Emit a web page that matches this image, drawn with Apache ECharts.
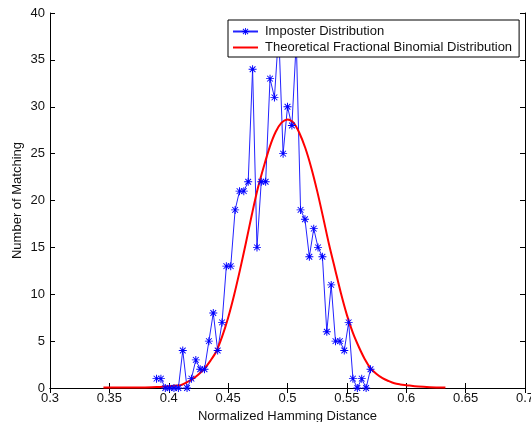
<!DOCTYPE html>
<html>
<head>
<meta charset="utf-8">
<script src="https://cdn.jsdelivr.net/npm/echarts@6/dist/echarts.min.js"></script>
<style>
html,body{margin:0;padding:0;background:#fff;}
#c{width:531px;height:422px;}
</style>
</head>
<body>
<div id="c"></div>
<script>
// Imposter distribution (x = normalized Hamming distance, y = count)
const imposterX = [0.3897,0.3934,0.3971,0.4007,0.4044,0.4081,0.4118,0.4154,0.4191,0.4228,
  0.4265,0.4301,0.4338,0.4375,0.4412,0.4449,0.4485,0.4522,0.4559,0.4596,
  0.4632,0.4669,0.4706,0.4743,0.4779,0.4816,0.4853,0.4890,0.4926,0.4963,
  0.5000,0.5037,0.5074,0.5110,0.5147,0.5184,0.5221,0.5257,0.5294,0.5331,
  0.5368,0.5404,0.5441,0.5478,0.5515,0.5551,0.5588,0.5625,0.5662,0.5699];
const imposterY = [1,1,0,0,0,0,4,0,1,3,
  2,2,5,8,4,7,13,13,19,21,
  21,22,34,15,22,22,33,31,38,25,
  30,28,37,19,18,14,17,15,14,6,
  11,5,5,4,7,1,0,1,0,2];

// Theoretical fractional binomial distribution
const theoryX = [0.345,0.35,0.36,0.37,0.38,0.39,0.40,0.405,0.41,0.415,
  0.42,0.425,0.43,0.435,0.44,0.445,0.45,0.455,0.46,0.465,
  0.47,0.475,0.48,0.485,0.49,0.495,0.50,0.505,0.51,0.515,
  0.52,0.525,0.53,0.535,0.54,0.545,0.55,0.555,0.56,0.565,
  0.57,0.575,0.58,0.585,0.59,0.595,0.60,0.61,0.62,0.633];
const theoryY = [0.05,0.05,0.05,0.05,0.06,0.1,0.2,0.25,0.3,0.6,
  0.95,1.45,2.05,2.9,3.9,5.5,7.5,9.9,12.6,15.5,
  18.5,21.3,23.6,25.7,27.3,28.3,28.65,28.3,27.2,25.6,
  23.5,21.0,18.2,15.3,12.7,10.1,7.8,5.9,4.4,3.1,
  2.1,1.5,1.05,0.75,0.5,0.38,0.3,0.15,0.08,0.05];

const xTickLabels = ['0.3','0.35','0.4','0.45','0.5','0.55','0.6','0.65','0.7'];
const yTickLabels = ['0','5','10','15','20','25','30','35','40'];

const seriesNames = ['Imposter Distribution','Theoretical Fractional Binomial Distribution'];

const star = 'path://M4.4,0H5.6V10H4.4Z M0,4.4H10V5.6H0Z M1,1.85L1.85,1L9,8.15L8.15,9Z M8.15,1L9,1.85L1.85,9L1,8.15Z';

const FONT = '"Liberation Sans", Arial, Helvetica, sans-serif';
const TXT = '#111';
const FS = 13;

function zip(a,b){ return a.map((v,i)=>[v,b[i]]); }

const chart = echarts.init(document.getElementById('c'), null, {renderer:'canvas'});
const baseAxisLine = {show:true, lineStyle:{color:'#000', width:1}};
chart.setOption({
  animation:false,
  backgroundColor:'#fff',
  textStyle:{fontFamily:FONT},
  grid:{left:50, right:6, top:13, bottom:34, containLabel:false, outerBoundsMode:'none'},
  legend:{
    orient:'vertical',
    left:228, top:20,
    itemWidth:25, itemHeight:9, itemGap:3,
    padding:[5,7,3,4],
    backgroundColor:'#fff',
    borderColor:'#000', borderWidth:1, borderRadius:0,
    textStyle:{fontFamily:FONT, fontSize:FS, color:TXT, padding:[0,0,0,2]},
    data:[{name:seriesNames[0]},{name:seriesNames[1], itemStyle:{opacity:0}}]
  },
  xAxis:[{
    type:'value', min:0.3, max:0.7, interval:0.05, position:'bottom',
    axisLine:baseAxisLine,
    axisTick:{show:true, inside:true, length:5, lineStyle:{color:'#000'}},
    axisLabel:{margin:4, fontSize:FS, color:TXT, fontFamily:FONT,
      formatter:(v)=>xTickLabels[Math.round((v-0.3)/0.05)]},
    splitLine:{show:false},
    name:'Normalized Hamming Distance', nameLocation:'middle', nameGap:22,
    nameTextStyle:{fontSize:FS, color:TXT, fontFamily:FONT}
  },{
    type:'value', min:0.3, max:0.7, interval:0.05, position:'top',
    axisLine:baseAxisLine,
    axisTick:{show:true, inside:true, length:5, lineStyle:{color:'#000'}},
    axisLabel:{show:false}, splitLine:{show:false}
  }],
  yAxis:[{
    type:'value', min:0, max:40, interval:5, position:'left',
    axisLine:baseAxisLine,
    axisTick:{show:true, inside:true, length:5, lineStyle:{color:'#000'}},
    axisLabel:{margin:5, fontSize:FS, color:TXT, fontFamily:FONT,
      formatter:(v)=>yTickLabels[Math.round(v/5)]},
    splitLine:{show:false},
    name:'Number of Matching', nameLocation:'middle', nameGap:26, nameMoveOverlap:false,
    nameTextStyle:{fontSize:FS, color:TXT, fontFamily:FONT}
  },{
    type:'value', min:0, max:40, interval:5, position:'right',
    axisLine:baseAxisLine,
    axisTick:{show:true, inside:true, length:5, lineStyle:{color:'#000'}},
    axisLabel:{show:false}, splitLine:{show:false}
  }],
  series:[{
    name:seriesNames[0], type:'line',
    data:zip(imposterX, imposterY),
    symbol:star, symbolSize:8, showAllSymbol:true,
    itemStyle:{color:'#0000ff'},
    lineStyle:{color:'#2323ff', width:1},
    clip:true
  },{
    name:seriesNames[1], type:'line',
    data:zip(theoryX, theoryY),
    symbol:'none', smooth:0.3,
    itemStyle:{color:'#ff0000'},
    lineStyle:{color:'#ff0000', width:2},
    clip:true
  }]
});
</script>
</body>
</html>
